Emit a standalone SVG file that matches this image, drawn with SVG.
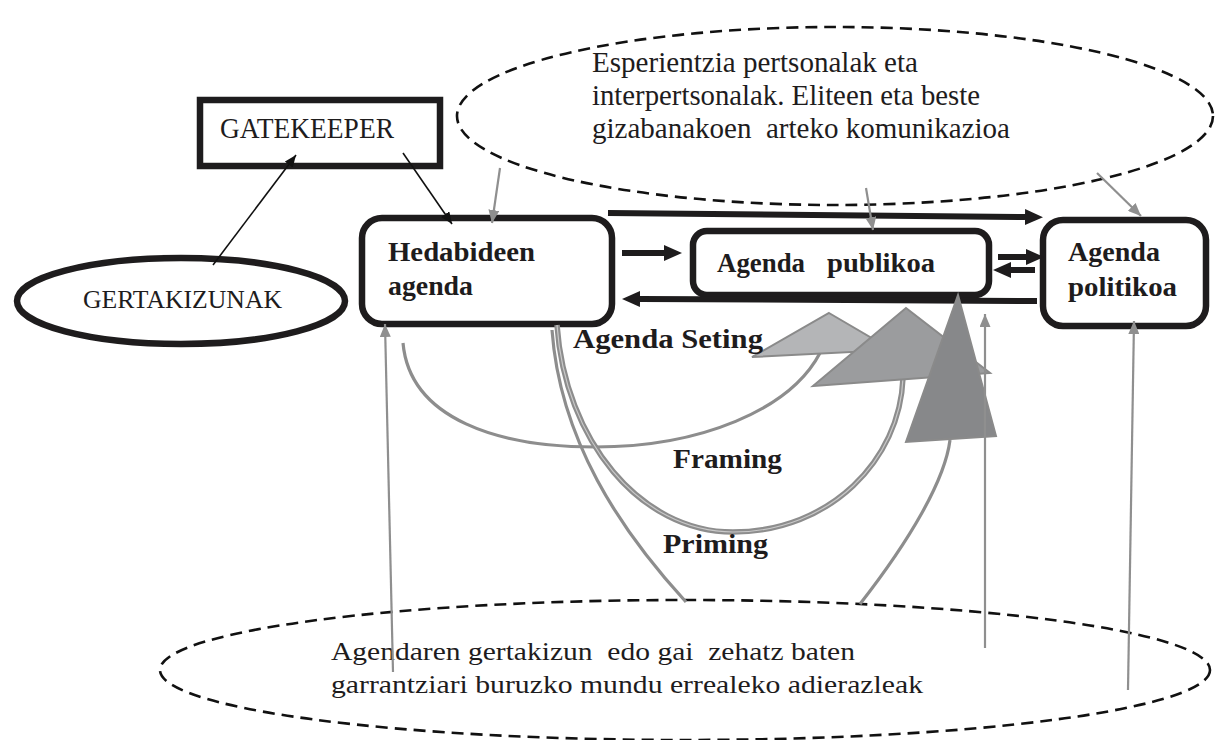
<svg xmlns="http://www.w3.org/2000/svg" width="1216" height="740" viewBox="0 0 1216 740">
<style>
.box{fill:#fff;stroke:#1e1c1d;stroke-width:6.5}
.ell{fill:#fff;stroke:#1e1c1d;stroke-width:6.5}
.dash{fill:none;stroke:#111;stroke-width:2.6;stroke-dasharray:12 7}
.t{font-family:"Liberation Serif","Times New Roman",serif;font-size:28.5px;fill:#1e1c1d}
.bt{font-family:"Liberation Serif","Times New Roman",serif;font-size:26px;fill:#1e1c1d}
.b{font-family:"Liberation Serif","Times New Roman",serif;font-size:27.5px;font-weight:bold;fill:#1e1c1d}
.thick{stroke:#1e1c1d;stroke-width:6;fill:none}
.thin{stroke:#111;stroke-width:1.6;fill:none}
.gray{stroke:#8f8f8f;stroke-width:2.2;fill:none}
.curve{stroke:#8d8d8d;stroke-width:3.2;fill:none}
.tri{stroke:#8a8a8a;stroke-width:2}
</style>
<defs>
<marker id="bigHead" viewBox="0 0 18 16" refX="0" refY="8" markerWidth="18" markerHeight="16" markerUnits="userSpaceOnUse" orient="auto">
<path d="M0,0 L18,8 L0,16 Z" fill="#1e1c1d"/>
</marker>
<marker id="blackHead" viewBox="0 0 12 10" refX="12" refY="5" markerWidth="12" markerHeight="10" markerUnits="userSpaceOnUse" orient="auto">
<path d="M0,0 L12,5 L0,10 Z" fill="#111"/>
</marker>
<marker id="grayHead" viewBox="0 0 13 11" refX="13" refY="5.5" markerWidth="13" markerHeight="11" markerUnits="userSpaceOnUse" orient="auto">
<path d="M0,0 L13,5.5 L0,11 Z" fill="#8f8f8f"/>
</marker>
</defs>
<rect width="1216" height="740" fill="#fff"/>

<g id="esperientzia">
<ellipse cx="835" cy="116" rx="378" ry="89" class="dash"/>
<text class="t" x="592" y="72" textLength="326" lengthAdjust="spacingAndGlyphs">Esperientzia pertsonalak eta</text>
<text class="t" x="592" y="105" textLength="388" lengthAdjust="spacingAndGlyphs">interpertsonalak. Eliteen eta beste</text>
<text class="t" x="592" y="138" textLength="418" lengthAdjust="spacingAndGlyphs" xml:space="preserve">gizabanakoen  arteko komunikazioa</text>
</g>

<g id="adierazleak">
<ellipse cx="685" cy="670" rx="525" ry="70" class="dash"/>
<text class="bt" x="331" y="660" textLength="524" lengthAdjust="spacingAndGlyphs" xml:space="preserve">Agendaren gertakizun  edo gai  zehatz baten</text>
<text class="bt" x="331" y="693" textLength="592" lengthAdjust="spacingAndGlyphs">garrantziari buruzko mundu errealeko adierazleak</text>
</g>

<g id="gatekeeper">
<rect x="200" y="100" width="240" height="66" class="box"/>
<text class="t" x="220" y="138" textLength="174" lengthAdjust="spacingAndGlyphs">GATEKEEPER</text>
</g>

<g id="gertakizunak">
<ellipse cx="181" cy="301" rx="164" ry="43" class="ell"/>
<text class="t" x="83" y="308" style="font-size:26px" textLength="199" lengthAdjust="spacingAndGlyphs">GERTAKIZUNAK</text>
</g>

<g id="hedabideen">
<rect x="362" y="218" width="250" height="106" rx="20" class="box"/>
<text class="b" x="388" y="261" textLength="147" lengthAdjust="spacingAndGlyphs">Hedabideen</text>
<text class="b" x="388" y="295" textLength="85" lengthAdjust="spacingAndGlyphs">agenda</text>
</g>

<g id="publikoa">
<rect x="693" y="231" width="296" height="64" rx="14" class="box"/>
<text class="b" x="717" y="272" textLength="88" lengthAdjust="spacingAndGlyphs">Agenda</text>
<text class="b" x="827" y="272" textLength="108" lengthAdjust="spacingAndGlyphs">publikoa</text>
</g>

<g id="politikoa">
<rect x="1043" y="220" width="163" height="106" rx="20" class="box"/>
<text class="b" x="1068" y="261" textLength="92" lengthAdjust="spacingAndGlyphs">Agenda</text>
<text class="b" x="1068" y="296" textLength="109" lengthAdjust="spacingAndGlyphs">politikoa</text>
</g>

<g id="connectors">
<line x1="213" y1="265" x2="296" y2="155" class="thin" marker-end="url(#blackHead)"/>
<line x1="403" y1="153" x2="452" y2="224" class="thin" marker-end="url(#blackHead)"/>
<line x1="608" y1="213" x2="1025" y2="217" class="thick" marker-end="url(#bigHead)"/>
<line x1="622" y1="253" x2="664" y2="253" class="thick" marker-end="url(#bigHead)"/>
<line x1="998" y1="257" x2="1026" y2="257" class="thick" marker-end="url(#bigHead)"/>
<line x1="1035" y1="270" x2="1011" y2="270" class="thick" marker-end="url(#bigHead)"/>
<line x1="1037" y1="301" x2="640" y2="299" class="thick" marker-end="url(#bigHead)"/>
<line x1="500" y1="168" x2="492" y2="223" class="gray" marker-end="url(#grayHead)"/>
<line x1="866" y1="188" x2="873" y2="230" class="gray" marker-end="url(#grayHead)"/>
<line x1="1097" y1="173" x2="1141" y2="216" class="gray" marker-end="url(#grayHead)"/>
<path d="M403,343 C410,420 500,447 595,447 C700,447 790,410 820,353" class="curve"/>
<path d="M557,325 C565,440 640,532 733,532 C830,532 900,460 903,378" stroke="#8d8d8d" stroke-width="5.5" fill="none"/>
<path d="M557,325 C565,440 640,532 733,532 C830,532 900,460 903,378" stroke="#c9c9c9" stroke-width="1.2" fill="none"/>
<path d="M552,330 C560,440 620,530 686,602" class="curve"/>
<path d="M860,604 C910,540 945,480 950,440" class="curve"/>
<polygon points="829,313 892,350 752,357" fill="#b4b5b7" class="tri"/>
<polygon points="906,308 990,373 813,386" fill="#9b9c9e" class="tri"/>
<polygon points="958,295 996,436 906,442" fill="#87888a" class="tri"/>
<line x1="393" y1="672" x2="385" y2="324" class="gray" marker-end="url(#grayHead)"/>
<line x1="985" y1="648" x2="985" y2="314" class="gray" marker-end="url(#grayHead)"/>
<line x1="1128" y1="690" x2="1134" y2="321" class="gray" marker-end="url(#grayHead)"/>
</g>

<g id="labels">
<text class="b" x="573" y="348" textLength="190" lengthAdjust="spacingAndGlyphs">Agenda Seting</text>
<text class="b" x="673" y="468" textLength="109" lengthAdjust="spacingAndGlyphs">Framing</text>
<text class="b" x="663" y="553" textLength="105" lengthAdjust="spacingAndGlyphs">Priming</text>
</g>
</svg>
